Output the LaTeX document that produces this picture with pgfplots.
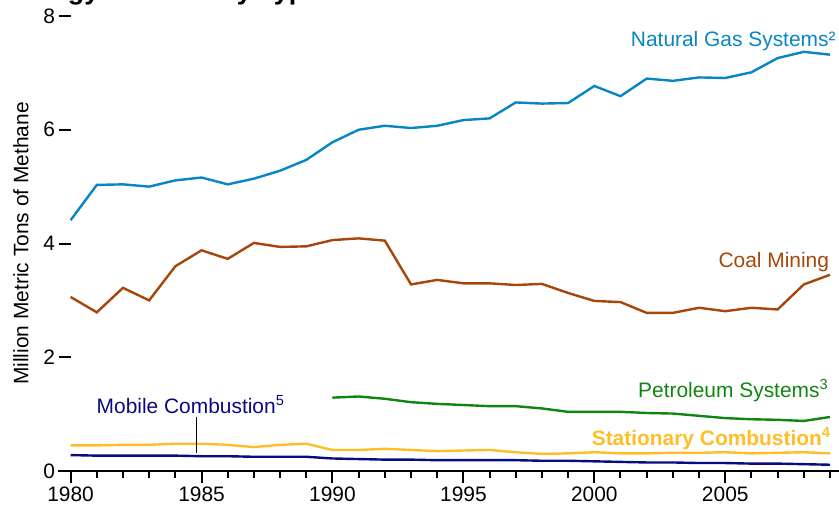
\documentclass[border=0pt]{standalone}
\usepackage{fontspec}
\setmainfont{Liberation Sans}
\usepackage{pgfplots}
\pgfplotsset{compat=1.18}
\definecolor{ngblue}{RGB}{8,134,196}
\definecolor{coalbrown}{RGB}{166,70,10}
\definecolor{petgreen}{RGB}{16,134,16}
\definecolor{statgold}{RGB}{255,190,40}
\definecolor{mobnavy}{RGB}{10,10,130}
\newcommand{\lblfont}{\fontsize{21}{25}\selectfont}
\begin{document}
\begin{tikzpicture}
\begin{axis}[
  at={(0,0)}, anchor=south west,
  scale only axis, width=759.4bp, height=455bp,
  xmin=1980, xmax=2009, ymin=0, ymax=8,
  axis x line=bottom, axis y line=left,
  x axis line style={-, line width=2bp, shorten <=-12.6bp, shorten >=-10bp},
  y axis line style={draw=none},
  xtick={1980,1985,...,2005},
  minor xtick={1981,...,2009},
  ytick={0,2,4,6,8},
  tick align=outside,
  major tick length=12bp, minor tick length=7bp,
  tick style={black, line width=2bp},
  tick label style={font=\lblfont},
  /pgf/number format/assume math mode=true,
  /pgf/number format/1000 sep={},
  ylabel={Million Metric Tons of Methane},
  ylabel style={font=\lblfont, at={(axis description cs:-0.0653,0.5)}, anchor=center},
  clip=false,
]
% Natural Gas Systems
\addplot[ngblue, line width=2.4bp] table {
1980 4.41
1981 5.03
1982 5.04
1983 5.00
1984 5.11
1985 5.16
1986 5.04
1987 5.14
1988 5.28
1989 5.47
1990 5.78
1991 6.00
1992 6.07
1993 6.03
1994 6.07
1995 6.17
1996 6.20
1997 6.48
1998 6.46
1999 6.47
2000 6.77
2001 6.59
2002 6.90
2003 6.86
2004 6.92
2005 6.91
2006 7.01
2007 7.26
2008 7.37
2009 7.32
};
% Coal Mining
\addplot[coalbrown, line width=2.4bp] table {
1980 3.06
1981 2.79
1982 3.22
1983 3.00
1984 3.60
1985 3.88
1986 3.73
1987 4.01
1988 3.94
1989 3.95
1990 4.06
1991 4.09
1992 4.05
1993 3.28
1994 3.36
1995 3.30
1996 3.30
1997 3.27
1998 3.29
1999 3.13
2000 2.99
2001 2.97
2002 2.78
2003 2.78
2004 2.87
2005 2.81
2006 2.87
2007 2.84
2008 3.28
2009 3.45
};
% Petroleum Systems
\addplot[petgreen, line width=2.4bp] table {
1990 1.29
1991 1.31
1992 1.27
1993 1.21
1994 1.18
1995 1.16
1996 1.14
1997 1.14
1998 1.10
1999 1.04
2000 1.04
2001 1.04
2002 1.02
2003 1.01
2004 0.97
2005 0.93
2006 0.91
2007 0.90
2008 0.88
2009 0.95
};
% Stationary Combustion
\addplot[statgold, line width=2.4bp] table {
1980 0.45
1981 0.45
1982 0.46
1983 0.46
1984 0.48
1985 0.48
1986 0.46
1987 0.42
1988 0.46
1989 0.48
1990 0.37
1991 0.37
1992 0.39
1993 0.37
1994 0.35
1995 0.36
1996 0.37
1997 0.33
1998 0.30
1999 0.31
2000 0.33
2001 0.31
2002 0.31
2003 0.32
2004 0.32
2005 0.33
2006 0.31
2007 0.32
2008 0.33
2009 0.31
};
% Mobile Combustion
\addplot[mobnavy, line width=2.4bp] table {
1980 0.28
1981 0.27
1982 0.27
1983 0.27
1984 0.27
1985 0.26
1986 0.26
1987 0.25
1988 0.25
1989 0.25
1990 0.22
1991 0.21
1992 0.20
1993 0.20
1994 0.19
1995 0.19
1996 0.19
1997 0.19
1998 0.18
1999 0.18
2000 0.17
2001 0.16
2002 0.15
2003 0.15
2004 0.14
2005 0.14
2006 0.13
2007 0.13
2008 0.12
2009 0.11
};
\node[anchor=base east, text=ngblue, font=\lblfont, inner sep=0pt] at (axis cs:2009.22,7.47) {Natural Gas Systems²};
\node[anchor=base east, text=coalbrown, font=\lblfont, inner sep=0pt] at (axis cs:2008.97,3.58) {Coal Mining};
\node[anchor=base east, text=petgreen, font=\lblfont, inner sep=0pt] at (axis cs:2008.94,1.296) {Petroleum Systems\textsuperscript{3}};
\node[anchor=base east, text=statgold, font=\lblfont\bfseries, inner sep=0pt] at (axis cs:2009.03,0.457) {Stationary Combustion\textsuperscript{4}};
\node[anchor=base west, text=mobnavy, font=\lblfont, inner sep=0pt] at (axis cs:1980.99,1.014) {Mobile Combustion\textsuperscript{5}};
\draw[black, line width=1bp] (axis cs:1984.79,0.944) -- (axis cs:1984.79,0.311);
\end{axis}
\node[anchor=base west, font=\fontsize{27}{32}\selectfont\bfseries, inner sep=0pt] at (-62.6bp,471.5bp) {Energy Sources by Type};
\pgfresetboundingbox
\path[use as bounding box] (-70.6bp,-38bp) rectangle (768.4bp,471bp);
\end{tikzpicture}
\end{document}
